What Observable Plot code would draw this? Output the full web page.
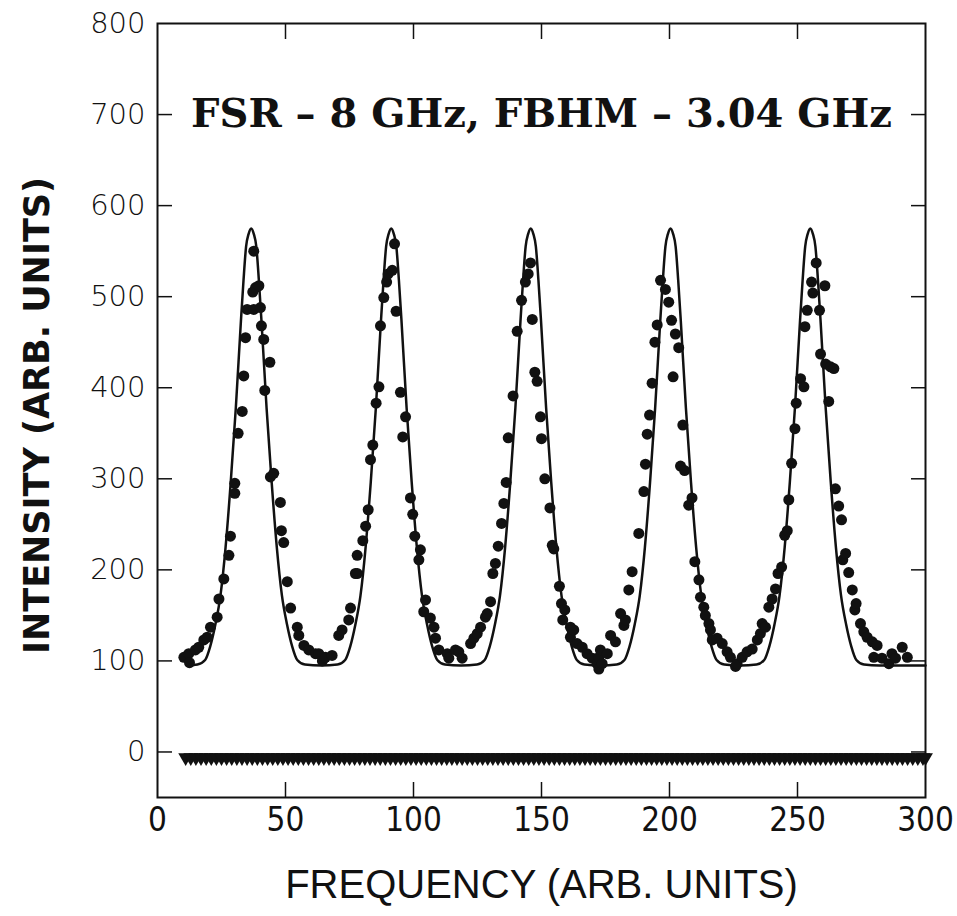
<!DOCTYPE html>
<html><head><meta charset="utf-8">
<script src="https://cdn.jsdelivr.net/npm/d3@7"></script>
<script src="https://cdn.jsdelivr.net/npm/@observablehq/plot@0.6"></script>
<style>body{margin:0;background:#fff}</style>
</head><body><div id="chart"></div>
<script>
// measured points (circles)
const dataX = [10.3,12.2,12.5,14.8,16.1,18.1,19.4,20.7,23.3,24,25.9,27.9,28.5,30.2,30.2,31.5,33.1,33.7,34.4,35.0,37.2,37.6,37.6,38.3,39.6,40.2,40.6,41.5,41.9,43.9,44.1,45.4,48,48.4,49.3,50.7,52,54.6,55.2,57.2,59.1,61.7,
  63,64.4,65.6,68.2,70.8,72.1,74.7,75.4,77.3,78,78,80.2,81.3,82.3,83.2,84.1,85.4,86.5,87.1,88.4,89.5,90.1,91.7,92.6,93.2,94.9,95.8,96.9,98.8,99.7,100.5,102.1,102.7,104,104.7,106.6,108,108.6,109.9,113.2,113.8,116.4,
  117.7,119,122.3,123.6,124.9,126.2,128.1,128.8,130.1,131,132,133.1,134.4,135.3,136.2,137,138.9,140.5,142.2,143.7,144.8,145.7,146.4,147.4,148.3,149.6,150,151.3,153.3,154.2,154.8,157,157.8,158.3,159.1,161.3,161.3,162.6,163.9,165.9,167.8,169.8,171.7,172.4,
  172.4,173,173.7,175.7,177,178.9,180.9,182.2,182.8,184.1,185.4,188,190,190.6,191.3,192.2,193.2,194.3,195.2,196.5,198.4,199.7,200.8,201.4,202.3,203.6,204.3,205.2,205.9,207.5,208.8,209.9,211.5,212.1,213.4,214,215.4,216,216.7,218.6,220.6,222.5,223.8,225.8,
  226.4,228.4,230.3,232.3,234.3,235.5,236.2,237.5,238.8,240.1,241.4,242.4,243.8,245,246,246.6,247.7,249,249.5,251.2,252.5,252.9,253.8,255.5,256,257.3,258.6,259,260.7,261,262.2,262.9,264.2,264.8,266.1,267.2,267.7,268.8,270,271.4,272.4,272.9,274.6,275.9,277.2,279.2,279.8,281.1,283,285.7,286.9,288.3,290.9,292.9];
const dataY = [104,108,98,112,115,123,126,137,148,168,190,216,237,284,295,350,374,413,455,486,505,486,550,510,512,488,468,453,397,428,302,306,274,243,230,187,158,137,128,117,112,108,
  108,100,104,106,128,134,145,158,196,196,216,232,248,266,321,337,383,401,468,499,516,525,529,558,484,395,346,368,279,261,237,211,222,154,167,147,137,125,112,108,103,112,
  110,103,119,125,130,137,148,152,165,196,207,226,251,273,296,345,391,462,496,516,525,537,475,417,407,368,344,300,268,227,223,182,163,145,156,137,126,134,119,115,108,103,97,91,
  104,112,97,108,128,121,152,139,145,178,198,240,286,316,349,370,405,450,469,518,508,494,474,412,459,444,314,359,309,271,279,209,189,170,159,150,141,134,123,125,119,110,104,94,
  97,104,110,113,123,130,141,137,159,168,179,196,203,238,243,277,317,355,383,410,401,467,485,516,504,537,485,437,512,426,385,423,421,289,270,255,211,218,197,178,156,163,141,132,126,121,104,117,103,97,108,103,115,104];

// fitted curve
const fitX = [12,15.6,18.6,20.6,22.6,24.6,26.6,28.6,30.6,32.6,33.6,34.6,35.6,36.6,37.6,38.6,39.6,40.6,42.6,44.6,46.6,48.6,50.6,52.6,54.6,57.6,64,
  70.3,73.3,75.3,77.3,79.3,81.3,83.3,85.3,87.3,88.3,89.3,90.3,91.3,92.3,93.3,94.3,95.3,97.3,99.3,101.3,103.3,105.3,107.3,109.3,112.3,118.6,
  124.8,127.8,129.8,131.8,133.8,135.8,137.8,139.8,141.8,142.8,143.8,144.8,145.8,146.8,147.8,148.8,149.8,151.8,153.8,155.8,157.8,159.8,161.8,163.8,166.8,173.1,
  179.4,182.4,184.4,186.4,188.4,190.4,192.4,194.4,196.4,197.4,198.4,199.4,200.4,201.4,202.4,203.4,204.4,206.4,208.4,210.4,212.4,214.4,216.4,218.4,221.4,227.7,
  234,237,239,241,243,245,247,249,251,252,253,254,255,256,257,258,259,261,263,265,267,269,271,273,276,282,300];
const fitY = [95,96,101,116,140,172,225,296,378,474,518,555,569,575,569,555,518,474,378,296,225,172,140,116,101,96,95,
  96,101,116,140,172,225,296,378,474,518,555,569,575,569,555,518,474,378,296,225,172,140,116,101,96,95,
  96,101,116,140,172,225,296,378,474,518,555,569,575,569,555,518,474,378,296,225,172,140,116,101,96,95,
  96,101,116,140,172,225,296,378,474,518,555,569,575,569,555,518,474,378,296,225,172,140,116,101,96,95,
  96,101,116,140,172,225,296,378,474,518,555,569,575,569,555,518,474,378,296,225,172,140,116,101,96,95,95];

// zero-level reference trace (triangles)
const zeroX = [11,13,15,17,19,21,23,25,27,29,31,33,35,37,39,41,43,45,47,49,51,53,55,57,59,61,63,65,67,69,71,73,75,77,79,81,83,85,87,89,91,93,95,97,99,
  101,103,105,107,109,111,113,115,117,119,121,123,125,127,129,131,133,135,137,139,141,143,145,147,149,151,153,155,157,159,161,163,165,167,169,171,173,175,177,179,181,183,185,187,189,191,193,195,197,199,
  201,203,205,207,209,211,213,215,217,219,221,223,225,227,229,231,233,235,237,239,241,243,245,247,249,251,253,255,257,259,261,263,265,267,269,271,273,275,277,279,281,283,285,287,289,291,293,295,297,299,300];
const zeroLevel = -6;

const xTicks = [0,50,100,150,200,250,300];
const yTicks = [0,100,200,300,400,500,600,700,800];
const xInnerTicks = [50,100,150,200,250];
const yInnerTicks = [0,100,200,300,400,500,600,700];
const xTitle = "FREQUENCY (ARB. UNITS)";
const yTitle = "INTENSITY (ARB. UNITS)";
const note = {x: 150, y: 700, label: "FSR – 8 GHz, FBHM – 3.04 GHz"};

const points = dataX.map((x, i) => ({x, y: dataY[i]}));
const fit = fitX.map((x, i) => ({x, y: fitY[i]}));
const zeros = zeroX.map(x => ({x, y: zeroLevel}));

const chart = Plot.plot({
  width: 957, height: 916,
  marginLeft: 157, marginRight: 32, marginTop: 23, marginBottom: 119,
  x: {domain: [0, 300]},
  y: {domain: [-50, 800]},
  style: {background: "#fff", color: "#111"},
  marks: [
    Plot.frame({strokeWidth: 2}),
    Plot.axisX({ticks: xInnerTicks, anchor: "bottom", tickSize: 15, dy: -15, fill: "none", label: null, strokeWidth: 1.5}),
    Plot.axisX({ticks: xInnerTicks, anchor: "top", tickSize: 15, dy: 15, fill: "none", label: null, strokeWidth: 1.5}),
    Plot.axisY({ticks: yInnerTicks, anchor: "left", tickSize: 15, dx: 15, fill: "none", label: null, strokeWidth: 1.5}),
    Plot.axisY({ticks: yInnerTicks, anchor: "right", tickSize: 15, dx: -15, fill: "none", label: null, strokeWidth: 1.5}),
    Plot.axisX({ticks: xTicks, anchor: "bottom", tickSize: 0, tickPadding: 10, label: null,
      fontSize: 33, fontFamily: "'Liberation Sans Narrow', 'DejaVu Sans Condensed', sans-serif"}),
    Plot.axisY({ticks: yTicks, anchor: "left", tickSize: 0, tickPadding: 12, label: null,
      fontSize: 29, fontFamily: "'DejaVu Sans', sans-serif", fontWeight: 200, letterSpacing: 1.5}),
    Plot.text([xTitle], {text: d => d, frameAnchor: "bottom", textAnchor: "middle", lineAnchor: "middle", dy: 88, fontSize: 40,
      fontFamily: "'Liberation Sans', sans-serif"}),
    Plot.text([yTitle], {text: d => d, frameAnchor: "left", textAnchor: "middle", lineAnchor: "middle", rotate: -90, dx: -120, dy: 5, fontSize: 35,
      fontWeight: "bold", letterSpacing: 1, fontFamily: "'DejaVu Sans', sans-serif"}),
    Plot.text([note], {x: "x", y: "y", text: "label", fontSize: 40, fontWeight: "bold",
      fontFamily: "'DejaVu Serif', serif"}),
    Plot.line(fit, {x: "x", y: "y", curve: "monotone-x", stroke: "#111", strokeWidth: 2.5}),
    Plot.dot(points, {x: "x", y: "y", r: 5.5, fill: "#111", stroke: "none"}),
    Plot.dot(zeros, {x: "x", y: "y", symbol: "triangle", rotate: 180, r: 5.5, fill: "#111", stroke: "none"})
  ]
});
document.getElementById("chart").appendChild(chart);
</script>
</body></html>
